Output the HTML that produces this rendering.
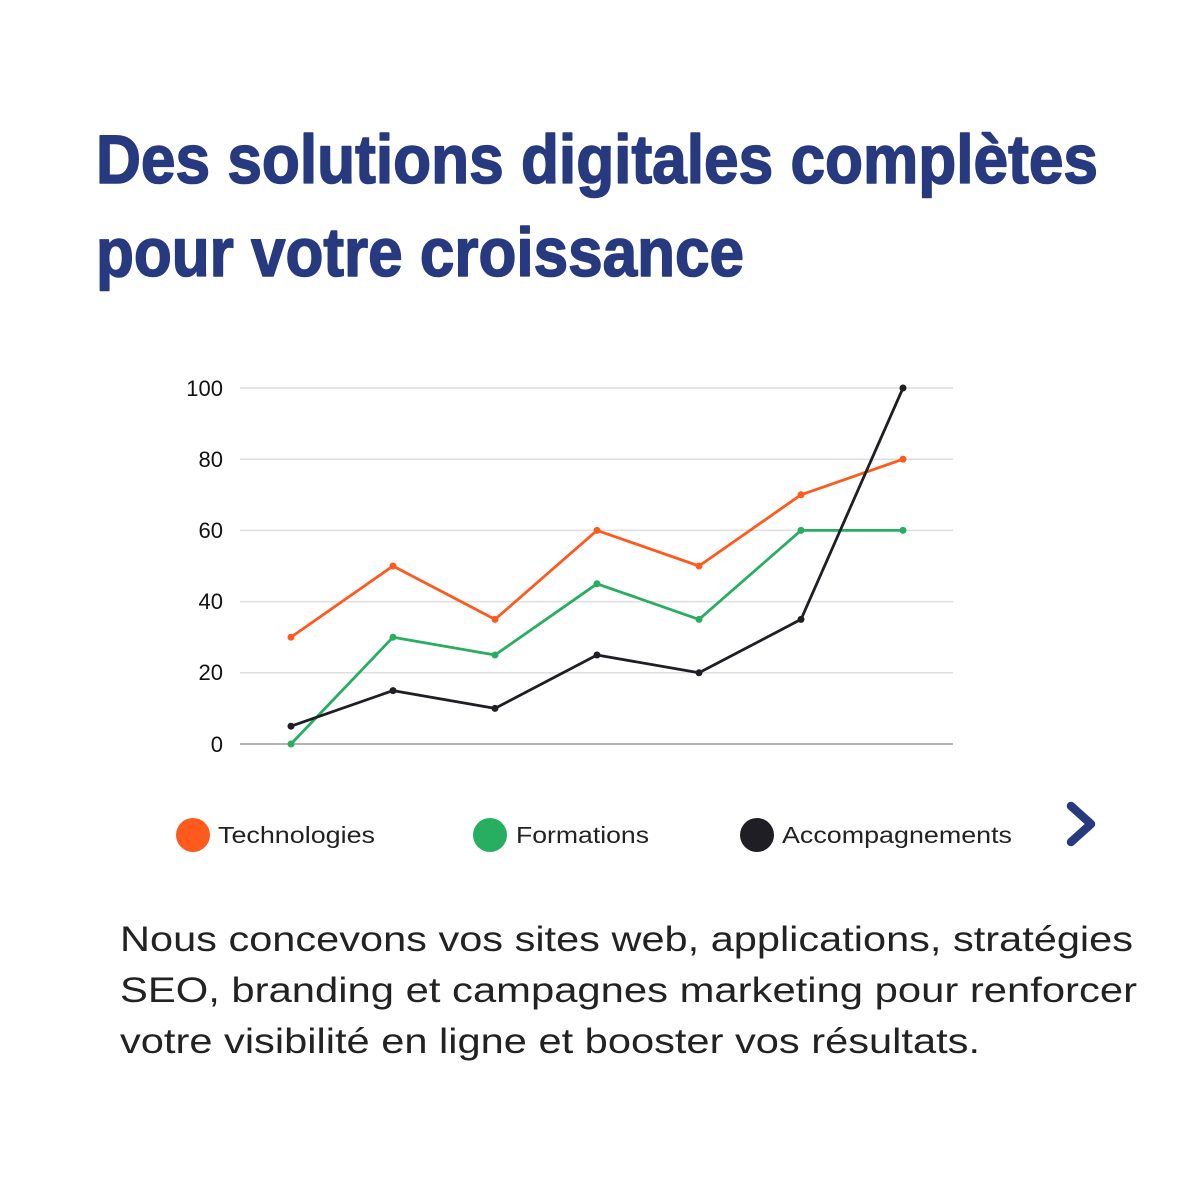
<!DOCTYPE html>
<html><head><meta charset="utf-8"><style>
html,body{margin:0;padding:0;background:#fff;}
svg{display:block;}
</style></head><body>
<svg width="1200" height="1200" viewBox="0 0 1200 1200" xmlns="http://www.w3.org/2000/svg">
<rect width="1200" height="1200" fill="#fff"/>
<g font-family="'Liberation Sans', sans-serif" font-weight="bold" fill="#27397f" stroke="#27397f" stroke-width="1.6" stroke-linejoin="round" font-size="69">
<text x="96" y="183" textLength="1002" lengthAdjust="spacingAndGlyphs">Des solutions digitales complètes</text>
<text x="96" y="276" textLength="648" lengthAdjust="spacingAndGlyphs">pour votre croissance</text>
</g>
<g stroke="#dedede" stroke-width="1.5">
<line x1="240" y1="388" x2="953" y2="388"/>
<line x1="240" y1="459.2" x2="953" y2="459.2"/>
<line x1="240" y1="530.4" x2="953" y2="530.4"/>
<line x1="240" y1="601.6" x2="953" y2="601.6"/>
<line x1="240" y1="672.8" x2="953" y2="672.8"/>
</g>
<line x1="240" y1="744" x2="953" y2="744" stroke="#9a9a9a" stroke-width="1.5"/>
<g font-family="'Liberation Sans', sans-serif" font-size="22" fill="#111" text-anchor="end">
<text x="223" y="396">100</text>
<text x="223" y="467">80</text>
<text x="223" y="538">60</text>
<text x="223" y="609">40</text>
<text x="223" y="680">20</text>
<text x="223" y="752">0</text>
</g>
<g fill="none" stroke-width="2.8" stroke-linejoin="round">
<polyline stroke="#fe5a1d" points="291,637.2 393,566 495,619.4 597,530.4 699,566 801,494.8 903,459.2"/>
<polyline stroke="#27ae60" points="291,744 393,637.2 495,655 597,583.8 699,619.4 801,530.4 903,530.4"/>
<polyline stroke="#1e1e24" points="291,726.2 393,690.6 495,708.4 597,655 699,672.8 801,619.4 903,388"/>
</g>
<g fill="#fe5a1d">
<circle cx="291" cy="637.2" r="3.5"/><circle cx="393" cy="566" r="3.5"/><circle cx="495" cy="619.4" r="3.5"/><circle cx="597" cy="530.4" r="3.5"/><circle cx="699" cy="566" r="3.5"/><circle cx="801" cy="494.8" r="3.5"/><circle cx="903" cy="459.2" r="3.5"/>
</g>
<g fill="#27ae60">
<circle cx="291" cy="744" r="3.5"/><circle cx="393" cy="637.2" r="3.5"/><circle cx="495" cy="655" r="3.5"/><circle cx="597" cy="583.8" r="3.5"/><circle cx="699" cy="619.4" r="3.5"/><circle cx="801" cy="530.4" r="3.5"/><circle cx="903" cy="530.4" r="3.5"/>
</g>
<g fill="#1e1e24">
<circle cx="291" cy="726.2" r="3.5"/><circle cx="393" cy="690.6" r="3.5"/><circle cx="495" cy="708.4" r="3.5"/><circle cx="597" cy="655" r="3.5"/><circle cx="699" cy="672.8" r="3.5"/><circle cx="801" cy="619.4" r="3.5"/><circle cx="903" cy="388" r="3.5"/>
</g>
<circle cx="193" cy="835" r="17" fill="#fe5a1d"/>
<circle cx="490" cy="835" r="17" fill="#27ae60"/>
<circle cx="757" cy="835" r="17" fill="#1e1e24"/>
<g font-family="'Liberation Sans', sans-serif" font-size="23" fill="#222">
<text x="218" y="843" textLength="157" lengthAdjust="spacingAndGlyphs">Technologies</text>
<text x="516" y="843" textLength="133" lengthAdjust="spacingAndGlyphs">Formations</text>
<text x="782" y="843" textLength="230" lengthAdjust="spacingAndGlyphs">Accompagnements</text>
</g>
<polyline points="1071,806 1091,824 1071,842" fill="none" stroke="#27397f" stroke-width="8.5" stroke-linecap="round" stroke-linejoin="round"/>
<g font-family="'Liberation Sans', sans-serif" font-size="35" fill="#222">
<text x="120" y="951" textLength="1013" lengthAdjust="spacingAndGlyphs">Nous concevons vos sites web, applications, stratégies</text>
<text x="120" y="1002" textLength="1017" lengthAdjust="spacingAndGlyphs">SEO, branding et campagnes marketing pour renforcer</text>
<text x="120" y="1053" textLength="860" lengthAdjust="spacingAndGlyphs">votre visibilité en ligne et booster vos résultats.</text>
</g>
</svg>
</body></html>
